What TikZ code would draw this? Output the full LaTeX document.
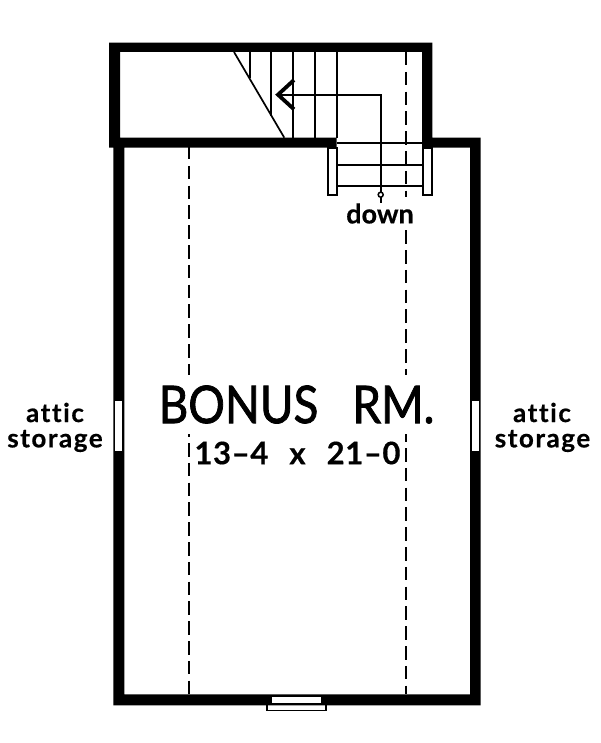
\documentclass[tikz,border=0pt]{standalone}
\usepackage{fontspec}
\setmainfont{Lato}
\tikzset{
  wall/.style={fill=black,draw=none},
  thin line/.style={draw=black,line width=1.7pt},
  frame/.style={draw=black,line width=1.7pt,fill=white},
  dash line/.style={draw=black,line width=2pt,dash pattern=on 13.5pt off 6.3pt},
  label/.style={inner sep=0pt,font=\fontsize{26}{26}\selectfont\addfontfeature{LetterSpace=6,FakeBold=0.5,Ligatures=NoCommon}\bfseries},
  downlabel/.style={inner sep=0pt,fill=white,minimum height=33pt,font=\fontsize{27}{27}\selectfont\addfontfeature{FakeBold=0.5}\bfseries},
  title/.style={inner sep=0pt,fill=white,minimum height=59pt,font=\fontsize{52}{52}\selectfont\addfontfeature{FakeBold=1.5,FakeStretch=0.88}},
  dims/.style={inner sep=0pt,font=\fontsize{31}{31}\selectfont\addfontfeature{LetterSpace=2,FakeBold=0.4}\bfseries}
}
\begin{document}
\begin{tikzpicture}[x=1pt,y=-1pt]
\useasboundingbox (0,0) rectangle (600,743);
\fill[white] (0,0) rectangle (600,743);
% walls
\fill[wall,even odd rule]
  (109,42.7) -- (432.3,42.7) -- (432.3,137.7) -- (480.7,137.7) -- (480.7,705.3) -- (113.3,705.3) -- (113.3,147.7) -- (109,147.7) -- cycle
  (120,52) -- (422,52) -- (422,147.7) -- (470,147.7) -- (470,694.3) -- (124.3,694.3) -- (124.3,147.7) -- (336.7,147.7) -- (336.7,137.7) -- (120,137.7) -- cycle;
% dashed lines
\draw[dash line] (188.7,146) -- (188.7,694);
\draw[dash line] (406,52) -- (406,694);
% stairs
\foreach \x/\y in {249.7/78.5,271.3/116,293/137.7,315/137.7,336.7/137.7}
  \draw[thin line] (\x,52) -- (\x,\y);
\draw[thin line] (234,52) -- (284.3,137.7);
\foreach \y in {143.3,164.7,186}
  \draw[thin line] (336.7,\y) -- (422,\y);
\draw[frame] (327.7,147.7) rectangle (336.7,194.7);
\draw[frame] (422.9,147.7) rectangle (432,194.7);
% windows
\fill[white] (115.3,401.2) rectangle (122.3,450.7);
\fill[white] (472,401.2) rectangle (479.2,450.7);
\draw[thin line,line width=1.5pt] (267.2,705) -- (267.2,710.4) -- (326.2,710.4) -- (326.2,705);
\fill[white] (272.3,697.3) rectangle (320.7,703.3);
% text
\node[downlabel] (down) at (380,213.5) {down};
\node[label] (a1) at (55,412.5) {attic};
\node[label] (s1) at (55,441) {storage};
\node[label] (a2) at (542,412.5) {attic};
\node[label] (s2) at (542.5,441) {storage};
\node[title] (bonus) at (296.5,404.5) {BONUS\hspace{34pt}RM.};
\node[dims] (size) at (297.5,453) {13–4\hspace{.68em}x\hspace{.68em}21–0};
% run line
\coordinate (runstart) at (380.7,202.7);
\coordinate (runbend) at (380.7,94.7);
\coordinate (runend) at (280,94.7);
\draw[thin line] (runstart) -- (runbend) -- (runend);
\node[circle,draw=black,fill=white,line width=1.5pt,inner sep=0pt,minimum size=5pt] (dot) at (380.7,194.7) {};
\coordinate (tipa) at (294,80);
\coordinate (tip) at (278,94.7);
\coordinate (tipb) at (294,109.3);
\draw[line width=3.8pt,line join=miter] (tipa) -- (tip) -- (tipb);
\end{tikzpicture}
\end{document}
